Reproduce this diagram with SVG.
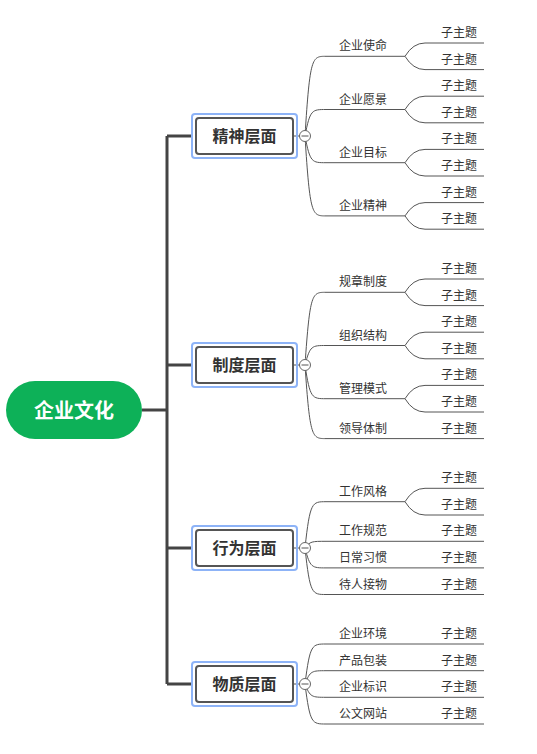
<svg xmlns="http://www.w3.org/2000/svg" width="537" height="754" viewBox="0 0 537 754">
<style>
text{font-family:"Noto Sans CJK SC","Microsoft YaHei",sans-serif;fill:#333}
.root{fill:#fff;font-size:20px;font-weight:bold}
.b{font-size:16px;font-weight:bold;text-anchor:middle}
.t{font-size:12px}
.ul{stroke:#555;stroke-width:1;fill:none}
.c{stroke:#555;stroke-width:1;fill:none}
.trunk{stroke:#444;stroke-width:3;fill:none}
.hl{fill:none;stroke:#8db3f7;stroke-width:2}
.box{fill:#fff;stroke:#555;stroke-width:2}
.col{fill:#fff;stroke:#666;stroke-width:1}
</style>
<defs>
<g id="tog"><circle class="col" cx="0" cy="0" r="5.5"/><line x1="-3.5" y1="0" x2="3.5" y2="0" stroke="#555" stroke-width="1"/></g>
</defs>
<g id="connectors">
<path class="trunk" d="M142 410H167M167 136V684M167 136H193M167 365H193M167 548H193M167 684H193"/>
<path class="c" d="M294 136H300M294 365H300M294 548H300M294 684H300"/>
<!-- 精神 -->
<path class="c" d="M305 136C310 56.3 312 56.3 326 56.3M305 136C310 109.5 312 109.5 326 109.5M305 136C310 162.7 312 162.7 326 162.7M305 136C310 215.9 312 215.9 326 215.9"/>
<path class="c" d="M405 56.3Q413 43 425 43M405 56.3Q413 69.6 425 69.6M405 109.5Q413 96.2 425 96.2M405 109.5Q413 122.8 425 122.8M405 162.7Q413 149.4 425 149.4M405 162.7Q413 176 425 176M405 215.9Q413 202.6 425 202.6M405 215.9Q413 229.2 425 229.2"/>
<!-- 制度 -->
<path class="c" d="M305 365C310 292.3 312 292.3 326 292.3M305 365C310 345.5 312 345.5 326 345.5M305 365C310 398.7 312 398.7 326 398.7M305 365C310 438.6 312 438.6 326 438.6"/>
<path class="c" d="M405 292.3Q413 279 425 279M405 292.3Q413 305.6 425 305.6M405 345.5Q413 332.2 425 332.2M405 345.5Q413 358.8 425 358.8M405 398.7Q413 385.4 425 385.4M405 398.7Q413 412 425 412"/>
<!-- 行为 -->
<path class="c" d="M305 548C310 501.7 312 501.7 326 501.7M305 548C310 541.3 312 541.3 326 541.3M305 548C310 567.9 312 567.9 326 567.9M305 548C310 594.5 312 594.5 326 594.5"/>
<path class="c" d="M405 501.7Q413 488.3 425 488.3M405 501.7Q413 515 425 515"/>
<!-- 物质 -->
<path class="c" d="M305 684C310 644 312 644 326 644M305 684C310 670.7 312 670.7 326 670.7M305 684C310 697.3 312 697.3 326 697.3M305 684C310 724 312 724 326 724"/>
</g>
<g id="root">
<rect x="6" y="381" width="136" height="58" rx="29" fill="#0db158"/>
<text class="root" x="74" y="418" text-anchor="middle">企业文化</text>
</g>
<g id="b1">
<rect class="hl" x="192" y="114" width="105" height="44" rx="3"/>
<rect class="box" x="196" y="118" width="97" height="36" rx="3"/>
<text class="b" x="244.5" y="142">精神层面</text>
<use href="#tog" x="305" y="136"/>
</g>
<g id="b2">
<rect class="hl" x="192" y="343" width="105" height="44" rx="3"/>
<rect class="box" x="196" y="347" width="97" height="36" rx="3"/>
<text class="b" x="244.5" y="371">制度层面</text>
<use href="#tog" x="305" y="365"/>
</g>
<g id="b3">
<rect class="hl" x="192" y="526" width="105" height="44" rx="3"/>
<rect class="box" x="196" y="530" width="97" height="36" rx="3"/>
<text class="b" x="244.5" y="554">行为层面</text>
<use href="#tog" x="305" y="548"/>
</g>
<g id="b4">
<rect class="hl" x="192" y="662" width="105" height="44" rx="3"/>
<rect class="box" x="196" y="666" width="97" height="36" rx="3"/>
<text class="b" x="244.5" y="690">物质层面</text>
<use href="#tog" x="305" y="684"/>
</g>
<!-- level 2 -->
<g id="n-qysm"><path class="ul" d="M326 56.3H405"/><text class="t" x="339" y="50.3">企业使命</text></g>
<g id="n-qyyj"><path class="ul" d="M326 109.5H405"/><text class="t" x="339" y="103.5">企业愿景</text></g>
<g id="n-qymb"><path class="ul" d="M326 162.7H405"/><text class="t" x="339" y="156.7">企业目标</text></g>
<g id="n-qyjs"><path class="ul" d="M326 215.9H405"/><text class="t" x="339" y="209.9">企业精神</text></g>
<g id="n-gzzd"><path class="ul" d="M326 292.3H405"/><text class="t" x="339" y="286.3">规章制度</text></g>
<g id="n-zzjg"><path class="ul" d="M326 345.5H405"/><text class="t" x="339" y="339.5">组织结构</text></g>
<g id="n-glms"><path class="ul" d="M326 398.7H405"/><text class="t" x="339" y="392.7">管理模式</text></g>
<g id="n-ldtz"><path class="ul" d="M326 438.6H405"/><text class="t" x="339" y="432.6">领导体制</text></g>
<g id="n-gzfg"><path class="ul" d="M326 501.7H405"/><text class="t" x="339" y="495.7">工作风格</text></g>
<g id="n-gzgf"><path class="ul" d="M326 541.3H405"/><text class="t" x="339" y="535.3">工作规范</text></g>
<g id="n-rcxg"><path class="ul" d="M326 567.9H405"/><text class="t" x="339" y="561.9">日常习惯</text></g>
<g id="n-drjw"><path class="ul" d="M326 594.5H405"/><text class="t" x="339" y="588.5">待人接物</text></g>
<g id="n-qyhj"><path class="ul" d="M326 644H405"/><text class="t" x="339" y="638">企业环境</text></g>
<g id="n-cpbz"><path class="ul" d="M326 670.7H405"/><text class="t" x="339" y="664.7">产品包装</text></g>
<g id="n-qybs"><path class="ul" d="M326 697.3H405"/><text class="t" x="339" y="691.3">企业标识</text></g>
<g id="n-gwwz"><path class="ul" d="M326 724H405"/><text class="t" x="339" y="718">公文网站</text></g>
<!-- subtopics -->
<g id="s1"><path class="ul" d="M425 43H484"/><text class="t" x="441" y="37">子主题</text></g>
<g id="s2"><path class="ul" d="M425 69.6H484"/><text class="t" x="441" y="63.6">子主题</text></g>
<g id="s3"><path class="ul" d="M425 96.2H484"/><text class="t" x="441" y="90.2">子主题</text></g>
<g id="s4"><path class="ul" d="M425 122.8H484"/><text class="t" x="441" y="116.8">子主题</text></g>
<g id="s5"><path class="ul" d="M425 149.4H484"/><text class="t" x="441" y="143.4">子主题</text></g>
<g id="s6"><path class="ul" d="M425 176H484"/><text class="t" x="441" y="170">子主题</text></g>
<g id="s7"><path class="ul" d="M425 202.6H484"/><text class="t" x="441" y="196.6">子主题</text></g>
<g id="s8"><path class="ul" d="M425 229.2H484"/><text class="t" x="441" y="223.2">子主题</text></g>
<g id="s9"><path class="ul" d="M425 279H484"/><text class="t" x="441" y="273">子主题</text></g>
<g id="s10"><path class="ul" d="M425 305.6H484"/><text class="t" x="441" y="299.6">子主题</text></g>
<g id="s11"><path class="ul" d="M425 332.2H484"/><text class="t" x="441" y="326.2">子主题</text></g>
<g id="s12"><path class="ul" d="M425 358.8H484"/><text class="t" x="441" y="352.8">子主题</text></g>
<g id="s13"><path class="ul" d="M425 385.4H484"/><text class="t" x="441" y="379.4">子主题</text></g>
<g id="s14"><path class="ul" d="M425 412H484"/><text class="t" x="441" y="406">子主题</text></g>
<g id="s15"><path class="ul" d="M405 438.6H484"/><text class="t" x="441" y="432.6">子主题</text></g>
<g id="s16"><path class="ul" d="M425 488.3H484"/><text class="t" x="441" y="482.3">子主题</text></g>
<g id="s17"><path class="ul" d="M425 515H484"/><text class="t" x="441" y="509">子主题</text></g>
<g id="s18"><path class="ul" d="M405 541.3H484"/><text class="t" x="441" y="535.3">子主题</text></g>
<g id="s19"><path class="ul" d="M405 567.9H484"/><text class="t" x="441" y="561.9">子主题</text></g>
<g id="s20"><path class="ul" d="M405 594.5H484"/><text class="t" x="441" y="588.5">子主题</text></g>
<g id="s21"><path class="ul" d="M405 644H484"/><text class="t" x="441" y="638">子主题</text></g>
<g id="s22"><path class="ul" d="M405 670.7H484"/><text class="t" x="441" y="664.7">子主题</text></g>
<g id="s23"><path class="ul" d="M405 697.3H484"/><text class="t" x="441" y="691.3">子主题</text></g>
<g id="s24"><path class="ul" d="M405 724H484"/><text class="t" x="441" y="718">子主题</text></g>
</svg>
